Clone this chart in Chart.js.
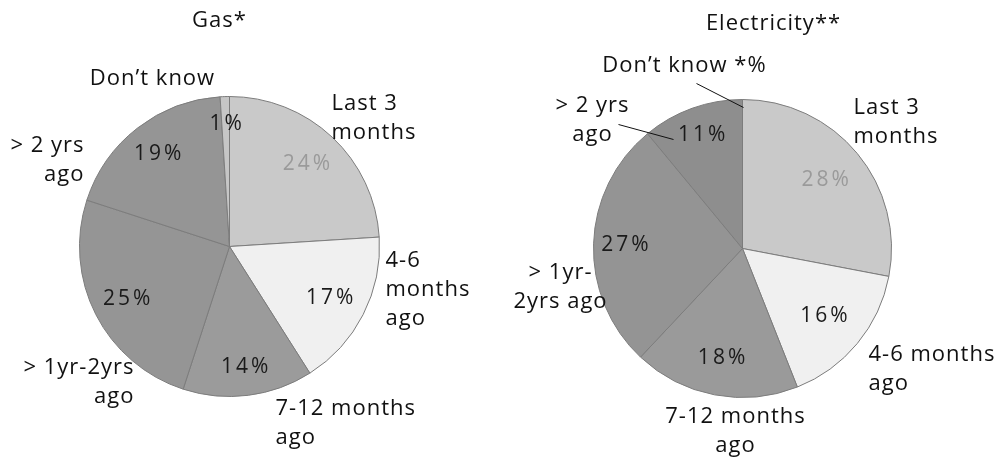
<!DOCTYPE html>
<html>
<head>
<meta charset="utf-8">
<script src="https://cdn.jsdelivr.net/npm/chart.js@4.4.1/dist/chart.umd.min.js"></script>
<style>
  html, body { margin: 0; padding: 0; background: #fff; }
  #wrap { position: relative; width: 997px; height: 464px; }
  .box { position: absolute; top: 0; height: 464px; }
</style>
</head>
<body>
<div id="wrap">
  <div class="box" style="left:0;width:498px"><canvas id="gasChart"></canvas></div>
  <div class="box" style="left:498px;width:499px"><canvas id="elecChart"></canvas></div>
</div>
<script>
// data
const categories = ['Last 3 months', '4-6 months ago', '7-12 months ago', '> 1yr-2yrs ago', '> 2 yrs ago', 'Don\u2019t know'];
const gasValues = [24, 17, 14, 25, 19, 1];
const elecValues = [28, 16, 18, 27, 11, 0];

// category text as it is broken into lines on each pie
const gasLabels = [['Last 3', 'months'], ['4-6', 'months', 'ago'], ['7-12 months', 'ago'], ['> 1yr-2yrs', 'ago'], ['> 2 yrs', 'ago'], ['Don\u2019t know']];
const elecLabels = [['Last 3', 'months'], ['4-6 months', 'ago'], ['7-12 months', 'ago'], ['> 1yr-', '2yrs ago'], ['> 2 yrs', 'ago'], ['Don\u2019t know *%']];

// slice colours
const gasColors = ['#c9c9c9', '#f0f0f0', '#9b9b9b', '#959595', '#959595', '#c6c6c6'];
const elecColors = ['#c9c9c9', '#f0f0f0', '#9a9a9a', '#949494', '#8e8e8e', '#8e8e8e'];

const FONT = '"Open Sans", "DejaVu Sans", sans-serif';

// label placement, relative to the pie centre (px), kept apart from the data
const gasLayout = {
    title: { text: 'Gas*', dx: -10, dy: -226 },
    pctRadius: [0.75, 0.75, 0.81, 0.77, 0.78, 0.82],
    outside: [
        { dx: 102, dy: -143, align: 'left' },
        { dx: 156, dy: 14, align: 'left' },
        { dx: 46, dy: 162, align: 'left' },
        { dx: -95, dy: 121, align: 'right' },
        { dx: -145, dy: -101, align: 'right' },
        { dx: -77, dy: -168, align: 'center' }
    ],
    leaders: []
};
const elecLayout = {
    title: { text: 'Electricity**', dx: 31, dy: -225 },
    pctRadius: [0.72, 0.71, 0.75, 0.79, 0.81, 0],
    outside: [
        { dx: 111, dy: -141, align: 'left' },
        { dx: 126, dy: 106, align: 'left' },
        { dx: -7, dy: 168, align: 'center' },
        { dx: -182, dy: 24, align: 'center' },
        { dx: -150, dy: -143, align: 'center' },
        { dx: -58, dy: -183, align: 'center' }
    ],
    // [x1, y1, x2, y2] relative to centre
    leaders: [[-46, -165, 1, -141], [-124, -124, -69, -109]]
};

const pieText = {
    id: 'pieText',
    afterDatasetsDraw(chart, args, opts) {
        const ctx = chart.ctx;
        const meta = chart.getDatasetMeta(0);
        const values = chart.data.datasets[0].data;
        const lay = opts.layout;
        const lines = opts.lines;
        const first = meta.data[0].getProps(['x', 'y', 'outerRadius'], true);
        const cx = first.x, cy = first.y;
        ctx.save();
        ctx.textBaseline = 'middle';

        // title
        ctx.font = '22px ' + FONT;
        ctx.letterSpacing = '1px';
        ctx.fillStyle = '#111';
        ctx.textAlign = 'center';
        ctx.fillText(lay.title.text, cx + lay.title.dx, cy + lay.title.dy);

        // percentages inside the slices
        ctx.font = '21px ' + FONT;
        ctx.letterSpacing = '3px';
        meta.data.forEach((arc, i) => {
            if (!values[i]) return;
            const p = arc.getProps(['x', 'y', 'startAngle', 'endAngle', 'outerRadius'], true);
            const mid = (p.startAngle + p.endAngle) / 2;
            const r = p.outerRadius * lay.pctRadius[i];
            ctx.fillStyle = i === 0 ? '#9a9a9a' : '#1a1a1a';
            ctx.fillText(values[i] + '%', p.x + Math.cos(mid) * r + 1.5, p.y + Math.sin(mid) * r);
        });

        // category labels outside
        ctx.font = '22px ' + FONT;
        ctx.letterSpacing = '1px';
        ctx.fillStyle = '#111';
        lay.outside.forEach((o, i) => {
            ctx.textAlign = o.align;
            lines[i].forEach((t, k) => {
                ctx.fillText(t, cx + o.dx, cy + o.dy + k * 29);
            });
        });
        ctx.letterSpacing = '0px';

        // leader lines
        ctx.strokeStyle = '#111';
        ctx.lineWidth = 1;
        lay.leaders.forEach(l => {
            ctx.beginPath();
            ctx.moveTo(cx + l[0], cy + l[1]);
            ctx.lineTo(cx + l[2], cy + l[3]);
            ctx.stroke();
        });
        ctx.restore();
    }
};

function makePie(id, values, colors, lines, layout, padding) {
    return new Chart(document.getElementById(id), {
        type: 'pie',
        data: {
            labels: categories,
            datasets: [{
                data: values,
                backgroundColor: colors,
                borderColor: '#7c7c7c',
                borderWidth: 1
            }]
        },
        options: {
            responsive: true,
            maintainAspectRatio: false,
            animation: false,
            layout: { padding: padding },
            plugins: {
                legend: { display: false },
                tooltip: { enabled: false },
                pieText: { layout: layout, lines: lines }
            }
        },
        plugins: [pieText]
    });
}

const gasChart = makePie('gasChart', gasValues, gasColors, gasLabels, gasLayout,
    { left: 79, right: 118, top: 96, bottom: 67 });
const elecChart = makePie('elecChart', elecValues, elecColors, elecLabels, elecLayout,
    { left: 95, right: 105, top: 99, bottom: 66 });
</script>
</body>
</html>
